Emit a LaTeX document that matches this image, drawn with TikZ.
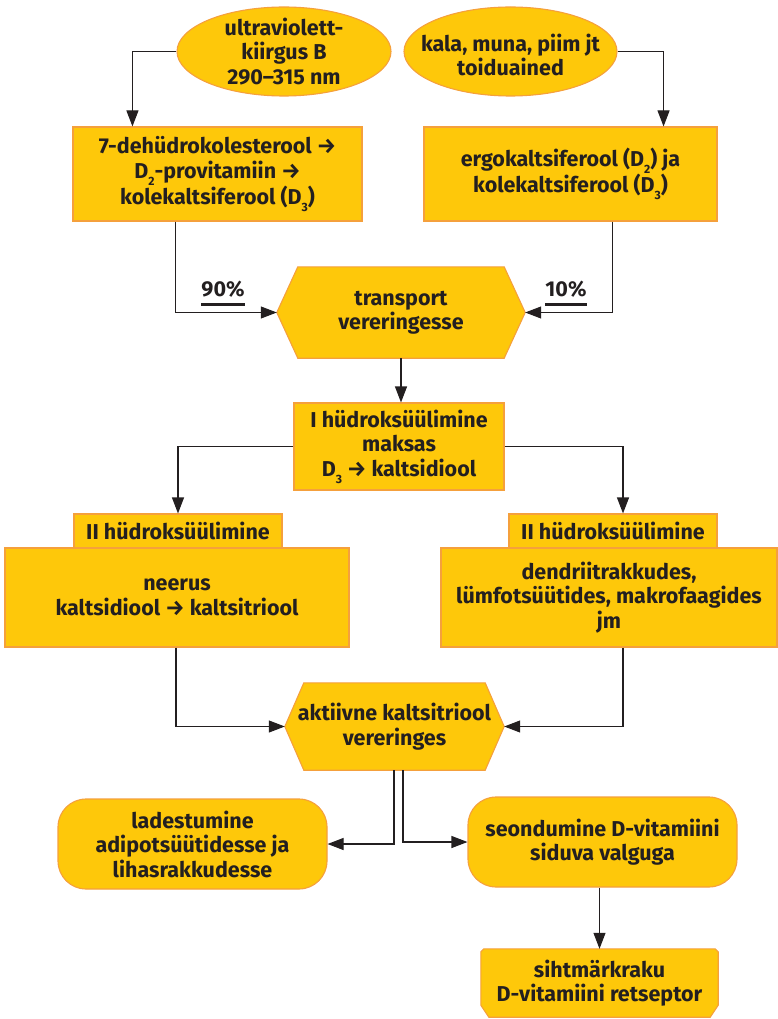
\documentclass[tikz,border=0pt]{standalone}
\usepackage{fontspec}
\setmainfont{Fira Sans}
\usetikzlibrary{arrows.meta,calc,backgrounds,shapes.geometric}
\definecolor{fillY}{RGB}{254,200,10}
\definecolor{edgeO}{RGB}{245,160,60}
\definecolor{ink}{RGB}{35,31,32}
\newcommand\lowsub[1]{\raisebox{-0.6ex}{\fontsize{12}{12}\selectfont #1}}
\begin{document}
\begin{tikzpicture}[x=1pt,y=-1pt,
  every node/.style={font=\fontsize{21.5}{24.5}\selectfont\bfseries, text=ink, align=center, inner sep=0pt},
  boxfill/.style={fill=fillY, draw=edgeO, line width=1.1pt},
  rectbox/.style={boxfill, rectangle},
  conn/.style={draw=ink, line width=1.1pt},
  arr/.style={conn, -{Triangle[length=16pt,width=12pt]}},
]
\useasboundingbox (0,0) rectangle (778,1019);

% top ellipses
\node[ellipse, boxfill, minimum width=214pt, minimum height=89pt] (e1) at (284,51.5) {};
\node (e1t) at (e1) {ultraviolett-\\kiirgus B\\290–315 nm};
\node[ellipse, boxfill, minimum width=213pt, minimum height=89pt] (e2) at (510.5,51.5) {};
\node (e2t) at (510.5,55) {kala, muna, piim jt\\toiduained};

% boxes
\node[rectbox, minimum width=289pt, minimum height=94pt] (b1) at (217.5,174)
  {7-dehüdrokolesterool →\\D\lowsub{2}-provitamiin →\\kolekaltsiferool (D\lowsub{3})};
\node[rectbox, minimum width=293pt, minimum height=94pt] (b2) at (570.5,174)
  {ergokaltsiferool (D\lowsub{2}) ja\\kolekaltsiferool (D\lowsub{3})};

% transport hexagon
\node[minimum width=248pt, minimum height=91pt] (t) at (401,312.5) {transport\\vereringesse};
\begin{scope}[on background layer]
\draw[boxfill] ($(t.north west)+(21,0)$) -- ($(t.north east)+(-21,0)$) -- (t.east)
  -- ($(t.south east)+(-21,0)$) -- ($(t.south west)+(21,0)$) -- (t.west) -- cycle;
\end{scope}

\node (p90) at (223,289) {90\%};
\node (p10) at (566,289) {10\%};
\draw[ink, line width=2.6pt] ([yshift=-7pt]p90.south west) -- ([yshift=-7pt]p90.south east);
\draw[ink, line width=2.6pt] ([yshift=-7pt]p10.south west) -- ([yshift=-7pt]p10.south east);

% I hydroxylation
\node[rectbox, minimum width=210pt, minimum height=87pt] (h1) at (399,446.5)
  {I hüdroksüülimine\\maksas\\D\lowsub{3} → kaltsidiool};

% II hydroxylation
\node[rectbox, minimum width=344pt, minimum height=99pt] (m1) at (177,597.5)
  {neerus\\kaltsidiool → kaltsitriool};
\node[rectbox, minimum width=208pt, minimum height=34pt] (tab1) at (178,531) {II hüdroksüülimine};
\node[rectbox, minimum width=336pt, minimum height=99pt] (m2) at (609,597.5)
  {dendriitrakkudes,\\lümfotsüütides, makrofaagides\\jm};
\node[rectbox, minimum width=208pt, minimum height=34pt] (tab2) at (613,531) {II hüdroksüülimine};

% active calcitriol hexagon
\node[minimum width=219pt, minimum height=87pt] (h2) at (394.5,726.5) {aktiivne kaltsitriool\\vereringes};
\begin{scope}[on background layer]
\draw[boxfill] ($(h2.north west)+(19,0)$) -- ($(h2.north east)+(-19,0)$) -- (h2.east)
  -- ($(h2.south east)+(-19,0)$) -- ($(h2.south west)+(19,0)$) -- (h2.west) -- cycle;
\end{scope}

% rounded boxes
\node[rectbox, rounded corners=28pt, minimum width=269pt, minimum height=90pt] (lad) at (192.5,844)
  {ladestumine\\adipotsüütidesse ja\\lihasrakkudesse};
\node[rectbox, rounded corners=28pt, minimum width=269pt, minimum height=90pt] (seo) at (602.5,842)
  {seondumine D-vitamiini\\siduva valguga};

% receptor
\node[minimum width=237pt, minimum height=68pt] (sih) at (599.5,983)
  {sihtmärkraku\\D-vitamiini retseptor};
\begin{scope}[on background layer]
\draw[boxfill] ($(sih.north west)+(3,0)$) -- ($(sih.north east)+(-3,0)$) -- ($(sih.north east)+(0,3)$)
  -- ($(sih.south east)+(0,-12)$) -- ($(sih.south east)+(-8,0)$) -- ($(sih.south west)+(8,0)$)
  -- ($(sih.south west)+(0,-12)$) -- ($(sih.north west)+(0,3)$) -- cycle;
\end{scope}

% connectors
\draw[arr] (e1.west) -| ($(b1.north west)+(60,0)$);
\draw[arr] (e2.east) -| ($(b2.north east)+(-54,0)$);
\draw[arr] ($(b1.south west)+(103,0)$) |- (t.west);
\draw[arr] ($(b2.south east)+(-105,0)$) |- (t.east);
\draw[arr] (t.south) -- (t.south |- h1.north);
\draw[arr] (h1.west) -| (tab1.north);
\draw[arr] (h1.east) -| ($(tab2.north)+(10,0)$);
\draw[arr] ($(m1.south)+(-1,0)$) |- (h2.west);
\draw[arr] ($(m2.south)+(14,0)$) |- (h2.east);
\draw[arr] ($(h2.south)+(-0.5,0)$) |- (lad.east);
\draw[arr] ($(h2.south)+(8.5,0)$) |- (seo.west);
\draw[arr] (sih.north |- seo.south) -- (sih.north);
\end{tikzpicture}
\end{document}
